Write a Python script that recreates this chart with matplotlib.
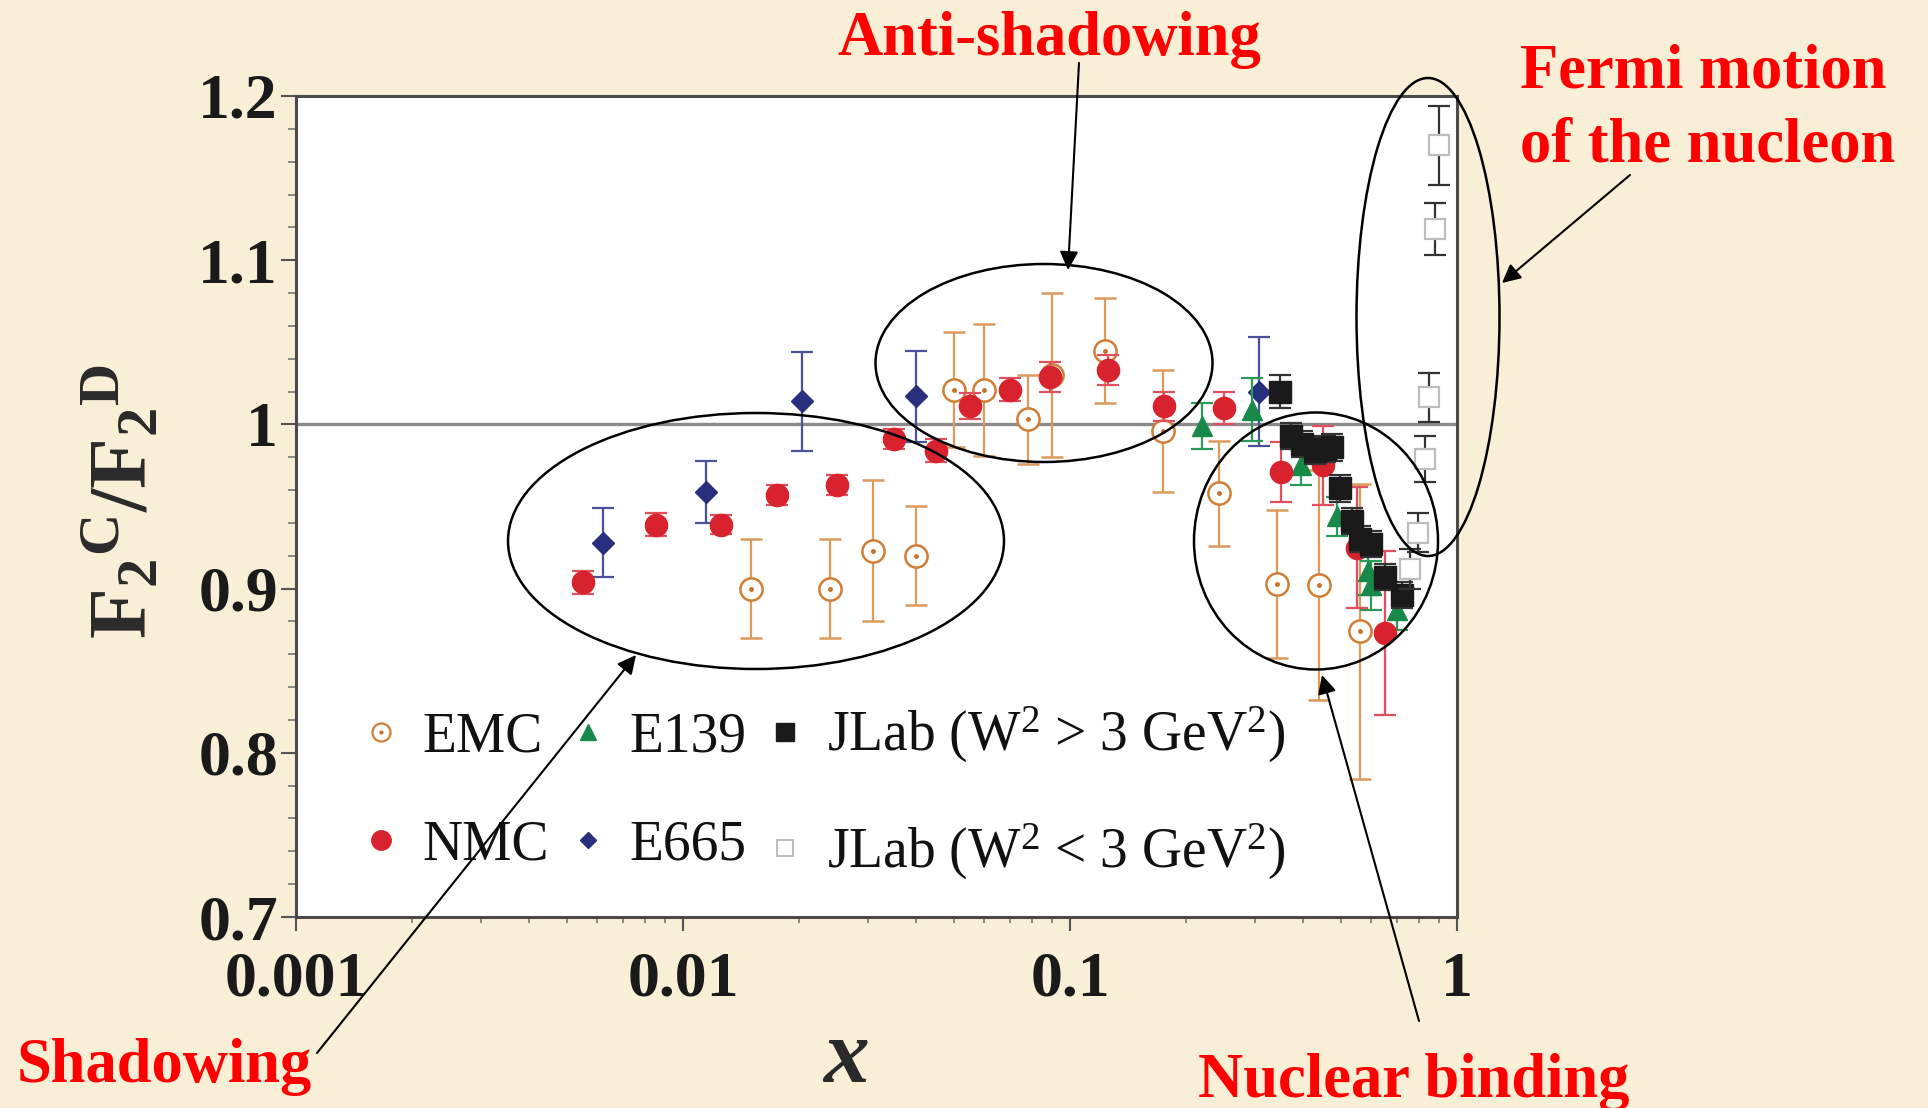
import matplotlib
matplotlib.use('Agg')
import matplotlib.pyplot as plt
from matplotlib.patches import Ellipse, FancyArrowPatch
from matplotlib.lines import Line2D
from matplotlib.ticker import FixedLocator, MultipleLocator, LogLocator, NullFormatter

plt.rcParams['font.family'] = ['Liberation Serif', 'DejaVu Serif']
plt.rcParams['mathtext.fontset'] = 'custom'
plt.rcParams['mathtext.rm'] = 'Liberation Serif'
plt.rcParams['mathtext.it'] = 'Liberation Serif:italic'
plt.rcParams['mathtext.bf'] = 'Liberation Serif:bold'

# ---- data: F2(C)/F2(D) vs x ----
emc_x = [0.015, 0.024, 0.031, 0.040, 0.050, 0.060, 0.078, 0.090, 0.123, 0.174, 0.242, 0.342, 0.44, 0.56]
emc_y = [0.900, 0.900, 0.923, 0.920, 1.021, 1.021, 1.003, 1.030, 1.045, 0.996, 0.958, 0.903, 0.902, 0.874]
emc_err = [0.030, 0.030, 0.043, 0.030, 0.035, 0.040, 0.027, 0.050, 0.032, 0.037, 0.032, 0.045, 0.070, 0.090]

nmc_x = [0.0055, 0.0085, 0.0125, 0.0175, 0.025, 0.035, 0.045, 0.055, 0.070, 0.089, 0.125, 0.175, 0.25, 0.35, 0.45, 0.55, 0.65]
nmc_y = [0.904, 0.939, 0.939, 0.957, 0.963, 0.991, 0.984, 1.011, 1.021, 1.029, 1.033, 1.011, 1.010, 0.971, 0.975, 0.925, 0.873]
nmc_err = [0.007, 0.007, 0.006, 0.006, 0.006, 0.006, 0.007, 0.008, 0.007, 0.009, 0.009, 0.009, 0.010, 0.018, 0.024, 0.037, 0.050]

e665_x = [0.0062, 0.0115, 0.0203, 0.040, 0.307]
e665_y = [0.928, 0.959, 1.014, 1.017, 1.020]
e665_err = [0.021, 0.019, 0.030, 0.028, 0.033]

e139_x = [0.219, 0.295, 0.395, 0.489, 0.59, 0.60, 0.70]
e139_y = [0.999, 1.009, 0.975, 0.944, 0.911, 0.902, 0.887]
e139_err = [0.014, 0.019, 0.012, 0.012, 0.015, 0.015, 0.012]

jlab_hi_x = [0.349, 0.373, 0.397, 0.43, 0.455, 0.475, 0.499, 0.535, 0.56, 0.60, 0.65, 0.72]
jlab_hi_y = [1.020, 0.993, 0.988, 0.984, 0.985, 0.986, 0.961, 0.941, 0.930, 0.927, 0.907, 0.896]
jlab_hi_err = [0.010, 0.008, 0.008, 0.008, 0.008, 0.008, 0.008, 0.008, 0.008, 0.008, 0.008, 0.008]

jlab_lo_x = [0.90, 0.877, 0.847, 0.826, 0.794, 0.757]
jlab_lo_y = [1.170, 1.119, 1.0165, 0.979, 0.934, 0.912]
jlab_lo_err = [0.024, 0.016, 0.015, 0.014, 0.012, 0.012]

y_ticks = [0.7, 0.8, 0.9, 1.0, 1.1, 1.2]
y_ticklabels = ['0.7', '0.8', '0.9', '1', '1.1', '1.2']
x_ticks = [0.001, 0.01, 0.1, 1]
x_ticklabels = ['0.001', '0.01', '0.1', '1']

W, H = 1928, 1108
BG = '#f9eed6'
RED = '#ff0000'
EMC_C = '#d07e35'


def fx(px):
    return px / W


def fy(py):
    return 1 - py / H


fig = plt.figure(figsize=(W / 100, H / 100), dpi=100, facecolor=BG)
ax = fig.add_axes([fx(296), fy(917), (1457 - 296) / W, (917 - 96) / H])
ax.set_facecolor('white')
ax.set_xscale('log')
ax.set_xlim(0.001, 1)
ax.set_ylim(0.7, 1.2)

ax.axhline(1.0, color='#8a8a8a', lw=2.4, zorder=1)

eb = dict(ls='none', elinewidth=1.6, capthick=1.6, capsize=8)
ax.errorbar(emc_x, emc_y, yerr=emc_err, fmt='o', ms=16, mfc='white', mec=EMC_C,
            mew=1.8, ecolor='#dd9a5a', zorder=3, **eb)
ax.plot(emc_x, emc_y, '.', ms=5, color='#c8702a', zorder=3.1)
ax.errorbar(e665_x, e665_y, yerr=e665_err, fmt='D', ms=11, color='#28307e',
            ecolor='#4b529a', zorder=4, **eb)
ax.errorbar(e139_x, e139_y, yerr=e139_err, fmt='^', ms=14, color='#178a4a',
            ecolor='#2a9a58', zorder=5, **eb)
ax.errorbar(nmc_x, nmc_y, yerr=nmc_err, fmt='o', ms=16, color='#d8232f',
            ecolor='#e0505c', zorder=6, **eb)
ax.errorbar(jlab_hi_x, jlab_hi_y, yerr=jlab_hi_err, fmt='s', ms=16, color='#1a1a1a',
            ecolor='#333333', zorder=7, **eb)
ax.errorbar(jlab_lo_x, jlab_lo_y, yerr=jlab_lo_err, fmt='s', ms=15, mfc='white',
            mec='#bdbdbd', mew=1.6, ecolor='#333333', zorder=8, **eb)

# axes styling
for s in ax.spines.values():
    s.set_linewidth(2.2)
    s.set_color('#4a4a4a')
ax.yaxis.set_major_locator(FixedLocator(y_ticks))
ax.set_yticklabels(y_ticklabels)
ax.yaxis.set_minor_locator(MultipleLocator(0.02))
ax.xaxis.set_major_locator(FixedLocator(x_ticks))
ax.set_xticklabels(x_ticklabels)
ax.xaxis.set_minor_locator(LogLocator(base=10, subs=range(2, 10)))
ax.xaxis.set_minor_formatter(NullFormatter())
ax.tick_params(axis='y', which='major', direction='out', length=11, width=1.5,
               color='#555555', pad=2, labelsize=46)
ax.tick_params(axis='y', which='minor', direction='out', length=6, width=1.2, color='#777777')
ax.tick_params(axis='x', which='major', direction='out', length=10, width=1.5,
               color='#555555', pad=15, labelsize=46)
ax.tick_params(axis='x', which='minor', direction='out', length=4, width=1.2, color='#777777')
for lab in ax.get_xticklabels() + ax.get_yticklabels():
    lab.set_fontweight('bold')
    lab.set_color('#1a1a1a')

# legend
emc_h = (Line2D([], [], ls='none', marker='o', ms=13, mfc='white', mec=EMC_C, mew=1.6),
         Line2D([], [], ls='none', marker='.', ms=4, color='#c8702a'))
handles = [
    emc_h,
    Line2D([], [], ls='none', marker='o', ms=14, color='#d8232f'),
    Line2D([], [], ls='none', marker='^', ms=12, color='#178a4a'),
    Line2D([], [], ls='none', marker='D', ms=8, color='#28307e'),
    Line2D([], [], ls='none', marker='s', ms=13, color='#1a1a1a'),
    Line2D([], [], ls='none', marker='s', ms=12, mfc='white', mec='#bdbdbd', mew=1.4),
]
labels = ['EMC', 'NMC', 'E139', 'E665',
          r'JLab (W$^2$ > 3 GeV$^2$)', r'JLab (W$^2$ < 3 GeV$^2$)']
leg = ax.legend(handles, labels, ncol=3, loc='upper left', frameon=False,
                bbox_to_anchor=(fx(364), fy(705)), bbox_transform=fig.transFigure,
                borderaxespad=0, borderpad=0, fontsize=40, handlelength=0.6,
                handletextpad=0.45, columnspacing=0.4, labelspacing=1.02)
for t in leg.get_texts():
    t.set_color('#111111')

# axis labels
fig.text(fx(846), fy(1082), 'x', fontsize=66, fontweight='bold', style='italic',
         ha='center', va='baseline', color='#2a2a2a')
fig.text(fx(124), fy(501), r'$\mathbf{F_2{}^{C}/F_2{}^{D}}$', rotation=90, fontsize=60,
         ha='center', va='center', color='#2a2a2a')

# region ellipses
ell = dict(fill=False, ec='black', lw=1.8, transform=fig.transFigure)
for cx, cy, w, h in [(756, 541, 496, 256), (1044, 363, 337, 198),
                     (1316, 541, 244, 257), (1428, 317, 143, 478)]:
    fig.add_artist(Ellipse((fx(cx), fy(cy)), w / W, h / H, **ell))

# arrows
for (x0, y0), (x1, y1) in [((317, 1053), (636, 655)), ((1079, 63), (1068, 270)),
                           ((1630, 175), (1502, 283)), ((1419, 1021), (1322, 675))]:
    fig.add_artist(FancyArrowPatch((fx(x0), fy(y0)), (fx(x1), fy(y1)),
                                   transform=fig.transFigure, arrowstyle='-|>',
                                   mutation_scale=28, lw=1.5, color='black',
                                   shrinkA=0, shrinkB=0))

# annotations
ann = dict(fontsize=45, fontweight='bold', color=RED, va='baseline')
fig.text(fx(1049), fy(55), 'Anti-shadowing', ha='center', **ann)
fig.text(fx(1520), fy(88), 'Fermi motion', ha='left', **ann)
fig.text(fx(1520), fy(162), 'of the nucleon', ha='left', **ann)
fig.text(fx(17), fy(1082), 'Shadowing', ha='left', **ann)
fig.text(fx(1414), fy(1097), 'Nuclear binding', ha='center', **ann)

fig.savefig('out.png', dpi=100, facecolor=BG)
